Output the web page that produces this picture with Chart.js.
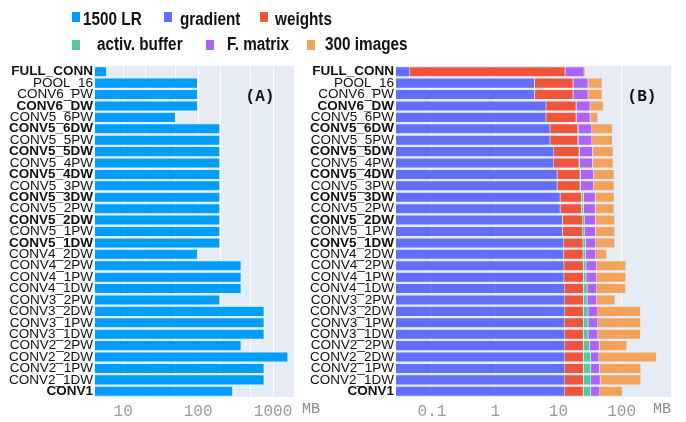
<!DOCTYPE html>
<html>
<head>
<meta charset="utf-8">
<script src="https://cdn.jsdelivr.net/npm/chart.js@4.4.0/dist/chart.umd.min.js"></script>
<style>
  body { margin: 0; background: #fff; }
  .wrap { position: relative; width: 686px; height: 422px; overflow: hidden; }
  canvas { position: absolute; top: 0; }
  #chartA { left: 0; }
  #chartB { left: 300px; }
  .lg-box { position: absolute; width: 8px; height: 10px; }
  .lg-txt { position: absolute; font: bold 18px 'Liberation Sans', Arial, sans-serif; line-height: 18px;
            color: #111; white-space: nowrap; transform: scaleX(0.85); transform-origin: left center; }
</style>
</head>
<body>
<div class="wrap">
  <canvas id="chartA" width="330" height="422"></canvas>
  <canvas id="chartB" width="386" height="422"></canvas>

  <div class="lg-box" style="left:72px;top:12px;background:#009DFA"></div>
  <div class="lg-txt" style="left:83px;top:10px">1500 LR</div>
  <div class="lg-box" style="left:164px;top:12px;background:#636EFA"></div>
  <div class="lg-txt" style="left:180px;top:10px">gradient</div>
  <div class="lg-box" style="left:260px;top:12px;background:#EF553B"></div>
  <div class="lg-txt" style="left:275px;top:10px">weights</div>

  <div class="lg-box" style="left:72px;top:40px;background:#50CD96"></div>
  <div class="lg-txt" style="left:97px;top:35px">activ. buffer</div>
  <div class="lg-box" style="left:206px;top:40px;background:#AB63FA"></div>
  <div class="lg-txt" style="left:227px;top:35px">F. matrix</div>
  <div class="lg-box" style="left:307px;top:40px;background:#F3A25C"></div>
  <div class="lg-txt" style="left:325px;top:35px">300 images</div>
</div>

<script>
// layers, top to bottom
const layers = [
  'FULL_CONN', 'POOL_16', 'CONV6_PW', 'CONV6_DW', 'CONV5_6PW', 'CONV5_6DW',
  'CONV5_5PW', 'CONV5_5DW', 'CONV5_4PW', 'CONV5_4DW', 'CONV5_3PW', 'CONV5_3DW',
  'CONV5_2PW', 'CONV5_2DW', 'CONV5_1PW', 'CONV5_1DW', 'CONV4_2DW', 'CONV4_2PW',
  'CONV4_1PW', 'CONV4_1DW', 'CONV3_2PW', 'CONV3_2DW', 'CONV3_1PW', 'CONV3_1DW',
  'CONV2_2PW', 'CONV2_2DW', 'CONV2_1PW', 'CONV2_1DW', 'CONV1'
];
const boldLayers = ['FULL_CONN', 'CONV6_DW', 'CONV5_6DW', 'CONV5_5DW', 'CONV5_4DW',
  'CONV5_3DW', 'CONV5_2DW', 'CONV5_1DW', 'CONV1'];

// (A) memory with 1500 LR, MB
const lr1500 = [6, 98, 98, 98, 50, 195, 195, 195, 195, 195, 195, 195, 195, 195, 195, 195,
  98, 375, 375, 375, 195, 760, 760, 760, 375, 1580, 760, 760, 290];

// (B) stacked memory parts, MB
const gradient = [0.045, 4.2, 4.2, 6.4, 6.4, 7.4, 7.4, 8.5, 8.5, 9.6, 9.6, 10.7, 10.7, 11.6, 11.6,
  12.2, 12.2, 12.3, 12.3, 12.7, 12.7, 12.7, 12.7, 12.7, 12.7, 12.7, 12.7, 12.7, 12.7];
const weights = [12.75, 12.9, 12.9, 12.7, 12.7, 13.0, 13.0, 12.8, 12.8, 12.5, 12.5, 12.6, 12.6, 12.8, 12.8,
  12.5, 12.5, 12.6, 12.6, 12.3, 12.3, 12.3, 12.3, 12.3, 12.3, 12.3, 12.3, 12.3, 12.3];
const activBuffer = [0.05, 0.1, 0.1, 0.15, 0.15, 0.3, 0.3, 0.4, 0.4, 0.6, 0.6, 1.7, 1.7, 1.9, 1.9,
  2.2, 2.2, 2.6, 2.6, 3.6, 3.6, 4.6, 4.6, 4.6, 6.1, 7.4, 7.4, 7.6, 7.4];
const fMatrix = [12.7, 12.4, 12.4, 12.5, 12.6, 13.2, 13.2, 13.1, 13.1, 13.5, 13.5, 13.4, 13.4, 12.5, 12.5,
  12.3, 12.3, 13.1, 13.1, 12.0, 12.0, 12.6, 12.6, 12.6, 13.3, 11.5, 12.5, 13.3, 13.0];
const images300 = [1.3, 19.8, 19.8, 20, 10.2, 38, 38, 38.8, 38.8, 40, 40, 38, 38, 39.5, 39.5,
  39, 19.3, 76, 76, 76, 38.4, 158, 158, 158, 77, 314, 157, 156, 58];

// axis ticks
const aGrid = [10, 20, 50, 100, 200, 500, 1000];
const aTickLabels = [10, 100, 1000];
const bGrid = [0.1, 1, 10, 100];
const bTickLabels = [0.1, 1, 10, 100];

const MONO = "'Liberation Mono', 'Courier New', monospace";
const SANS = "'Liberation Sans', Arial, sans-serif";
const PLOT_BG = '#E5ECF6';

const panelDeco = {
  id: 'panelDeco',
  beforeDraw(chart, args, opts) {
    const a = chart.chartArea, ctx = chart.ctx;
    ctx.save();
    ctx.fillStyle = PLOT_BG;
    ctx.fillRect(a.left, a.top, a.right - a.left, a.bottom - a.top);
    ctx.restore();
  },
  afterDraw(chart, args, opts) {
    const ctx = chart.ctx;
    ctx.save();
    ctx.fillStyle = '#111';
    ctx.font = 'bold 16px ' + MONO;
    ctx.textAlign = 'center';
    ctx.textBaseline = 'middle';
    ctx.fillText(opts.tag, opts.tagX, opts.tagY);
    ctx.fillStyle = '#8a8a8a';
    ctx.font = '15px ' + MONO;
    ctx.textAlign = opts.unitAlign;
    ctx.fillText('MB', opts.unitX, opts.unitY);
    ctx.restore();
  }
};

function makeOptions(grid, labels, min, max, yWidth, padRight, deco) {
  return {
    indexAxis: 'y',
    responsive: false,
    animation: false,
    layout: { padding: { top: 66, right: padRight, bottom: 0, left: 0 } },
    plugins: { legend: { display: false }, tooltip: { enabled: false }, panelDeco: deco },
    scales: {
      x: {
        type: 'logarithmic',
        stacked: true,
        min: min,
        max: max,
        afterBuildTicks: (s) => { s.ticks = grid.map(v => ({ value: v })); },
        afterFit: (s) => { s.height = 25; },
        grid: { color: '#ffffff', lineWidth: 1, drawTicks: false },
        border: { display: false },
        ticks: {
          autoSkip: false,
          maxRotation: 0,
          padding: 5,
          color: '#9a9a9a',
          font: { family: MONO, size: 16 },
          callback: (v) => labels.includes(v) ? String(v) : ''
        }
      },
      y: {
        stacked: true,
        afterFit: (s) => { s.width = yWidth; },
        grid: { display: false, drawTicks: false, tickLength: 0 },
        border: { display: false },
        ticks: {
          autoSkip: false,
          padding: 2,
          color: '#111',
          font: (c) => ({
            family: SANS, size: 13.5,
            weight: boldLayers.includes(layers[c.index]) ? 'bold' : 'normal'
          })
        }
      }
    }
  };
}

function bar(label, data, color) {
  return {
    label, data,
    backgroundColor: color,
    borderColor: PLOT_BG,
    borderWidth: 0.5,
    barPercentage: 0.88,
    categoryPercentage: 1
  };
}

new Chart(document.getElementById('chartA'), {
  type: 'bar',
  data: { labels: layers, datasets: [bar('1500 LR', lr1500, '#009DFA')] },
  options: makeOptions(aGrid, aTickLabels, 4.2, 1905, 95, 36,
    { tag: '(A)', tagX: 260, tagY: 97, unitX: 302, unitY: 409, unitAlign: 'left' }),
  plugins: [panelDeco]
});

new Chart(document.getElementById('chartB'), {
  type: 'bar',
  data: {
    labels: layers,
    datasets: [
      bar('gradient', gradient, '#636EFA'),
      bar('weights', weights, '#EF553B'),
      bar('activ. buffer', activBuffer, '#50CD96'),
      bar('F. matrix', fMatrix, '#AB63FA'),
      bar('300 images', images300, '#F3A25C')
    ]
  },
  options: makeOptions(bGrid, bTickLabels, 0.027, 603, 96, 15,
    { tag: '(B)', tagX: 342, tagY: 97, unitX: 371, unitY: 409, unitAlign: 'right' }),
  plugins: [panelDeco]
});
</script>
</body>
</html>
